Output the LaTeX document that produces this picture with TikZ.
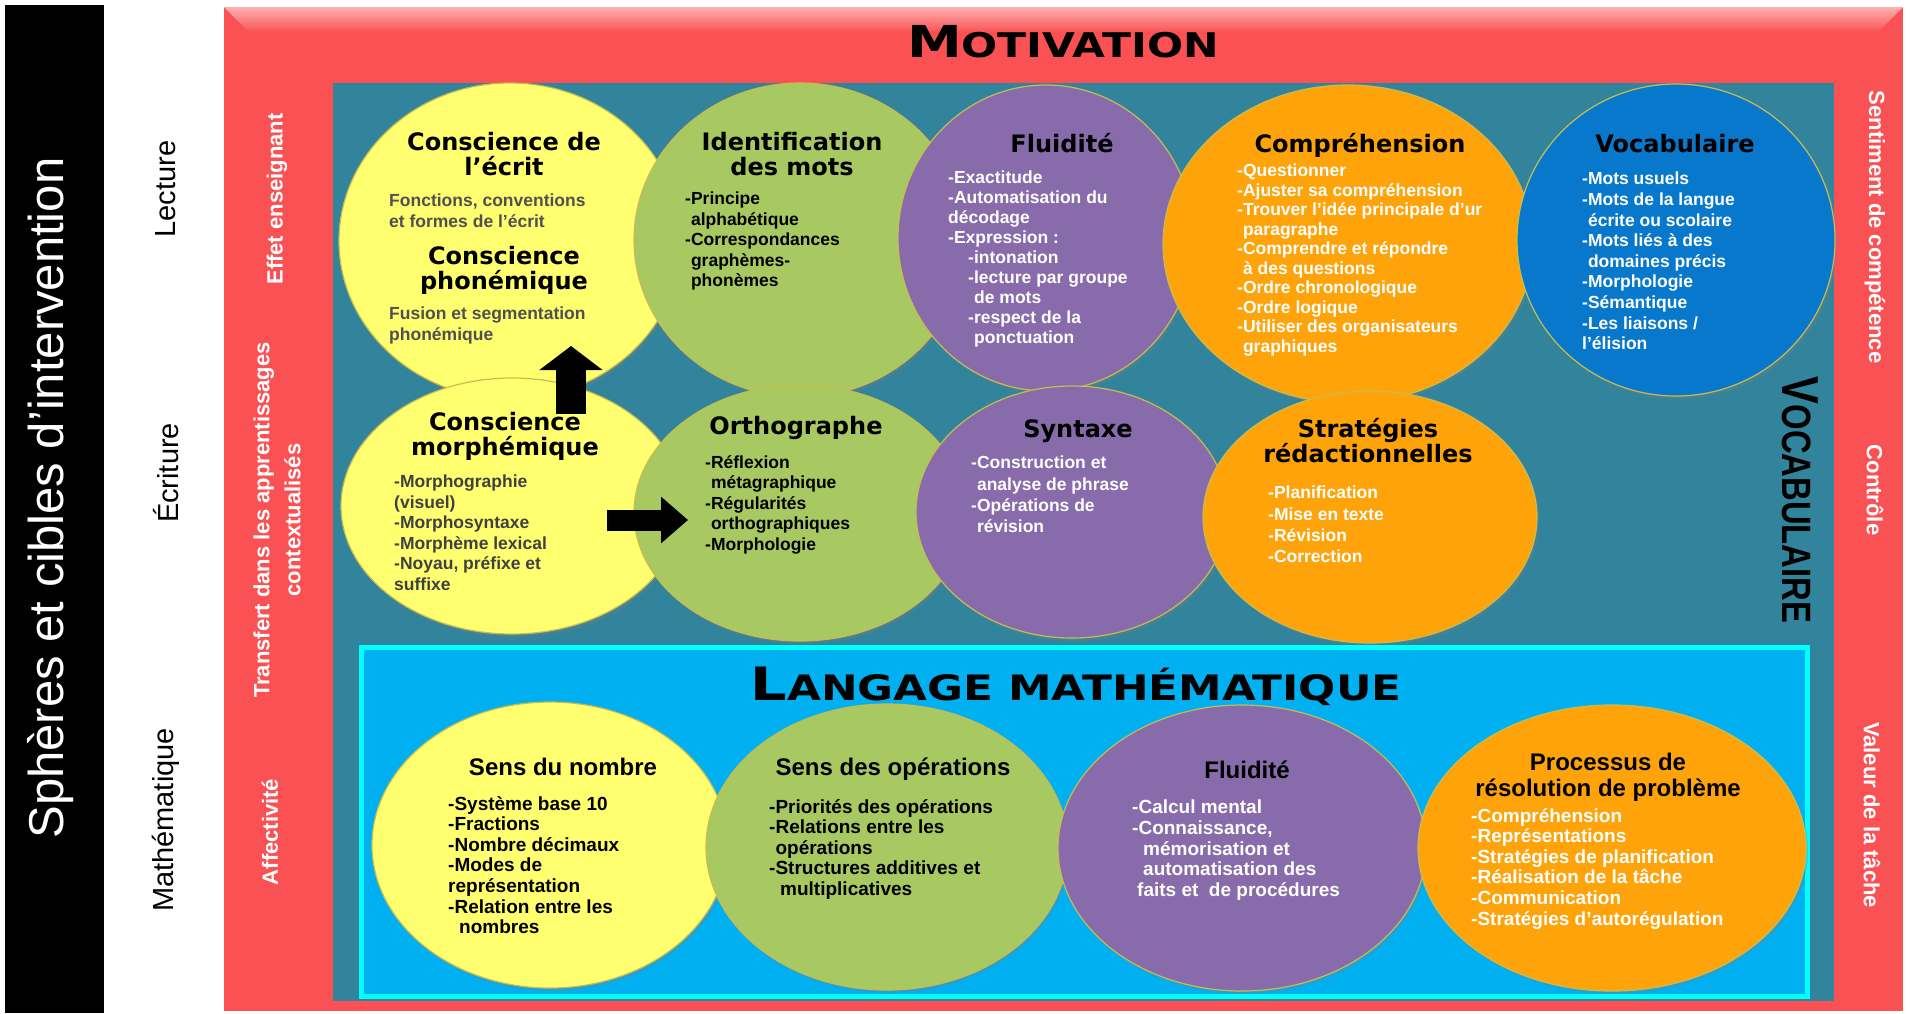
\documentclass[tikz,border=0pt]{standalone}
\usepackage{fontspec}
\setmainfont{Liberation Sans}
\newfontfamily\titrefont{DejaVu Sans}
\newfontfamily\largefont{DejaVu Sans}[FakeStretch=1.25]
\newfontfamily\etroitfont{Liberation Sans}[FakeStretch=0.8]
\usetikzlibrary{shapes.geometric,arrows.meta,shadows}
\definecolor{rouge}{RGB}{250,82,84}
\definecolor{sarcelle}{RGB}{49,132,155}
\definecolor{ciel}{RGB}{0,176,240}
\definecolor{cyanvif}{RGB}{0,255,255}
\definecolor{jaune}{RGB}{255,255,112}
\definecolor{vert}{RGB}{168,200,98}
\definecolor{violet}{RGB}{136,107,170}
\definecolor{orangevif}{RGB}{255,163,10}
\definecolor{bleu}{RGB}{8,120,204}
\definecolor{contour}{RGB}{200,188,80}
\definecolor{grisfonce}{RGB}{80,80,80}
\tikzstyle{bulle} = [ellipse, draw=contour, line width=1.2pt, inner sep=0pt,
    drop shadow={opacity=0.3, shadow xshift=2pt, shadow yshift=-3pt}]
\tikzstyle{titre} = [font=\titrefont\bfseries\fontsize{24}{25}\selectfont, align=center, inner sep=0pt]
\tikzstyle{liste} = [font=\bfseries\fontsize{17.5}{20.5}\selectfont, align=left, anchor=north west, inner sep=0pt]
\tikzstyle{titremath} = [font=\bfseries\fontsize{24}{26}\selectfont, align=center, inner sep=0pt]
\tikzstyle{listemath} = [font=\bfseries\fontsize{19}{20.6}\selectfont, align=left, anchor=north west, inner sep=0pt]
\tikzstyle{cote} = [font=\bfseries\fontsize{22}{31}\selectfont, text=white, align=center, inner sep=0pt]
\tikzstyle{sphere} = [font=\fontsize{29}{30}\selectfont, rotate=90, inner sep=0pt]

\begin{document}
\begin{tikzpicture}[x=1pt, y=-1pt]
                \useasboundingbox (0,0) rectangle (1910,1013);
                \fill[black] (5,5) rectangle (104,1013);
                \node[font=\fontsize{49}{50}\selectfont, text=white, rotate=90] (spheres) at (51,498) {Sphères et cibles d’intervention};
                \node[sphere] (lecture) at (166,189) {Lecture};
                \node[sphere] (ecriture) at (166,473) {Écriture};
                \node[sphere] (mathematique) at (166,820) {Mathématique};

                \fill[rouge] (224,7) rectangle (1903,1011);
                \shade[top color=rouge!45!white, bottom color=rouge] (224,7) -- (1903,7) -- (1878,32) -- (249,32) -- cycle;
                \node[font=\largefont\bfseries, anchor=base] (motivation) at (1063,57)
                    {{\fontsize{44}{44}\selectfont M}{\fontsize{34}{34}\selectfont OTIVATION}};
                \node[cote, rotate=90] (effet) at (277,199) {Effet enseignant};
                \node[cote, rotate=90] (transfert) at (277,520) {Transfert dans les apprentissages\\contextualisés};
                \node[cote, rotate=90] (affectivite) at (270,832) {Affectivité};
                \node[cote, rotate=-90] (sentiment) at (1875,227) {Sentiment de compétence};
                \node[cote, rotate=-90] (controle) at (1875,490) {Contrôle};
                \node[cote, rotate=-90] (valeur) at (1872,815) {Valeur de la tâche};

                \fill[sarcelle] (333,83) rectangle (1834,1001);
                \node[bulle, fill=jaune, minimum width=342pt, minimum height=316pt] (lect-ecrit) at (510,241) {};
                \node[bulle, fill=vert, minimum width=332pt, minimum height=314pt] (lect-ident) at (800,240) {};
                \node[bulle, fill=violet, minimum width=296pt, minimum height=306pt] (lect-flu) at (1046,238) {};
                \node[bulle, fill=orangevif, minimum width=370pt, minimum height=318pt] (lect-comp) at (1348,244) {};
                \node[bulle, fill=bleu, minimum width=318pt, minimum height=312pt] (lect-voc) at (1676,240) {};
                \node[bulle, fill=jaune, minimum width=342pt, minimum height=256pt] (ecr-morph) at (512,506) {};
                \node[bulle, fill=vert, minimum width=332pt, minimum height=256pt] (ecr-ortho) at (800,513) {};
                \node[bulle, fill=violet, minimum width=312pt, minimum height=252pt] (ecr-synt) at (1072,512) {};
                \node[bulle, fill=orangevif, minimum width=334pt, minimum height=252pt] (ecr-strat) at (1370,517) {};
                \node[font=\etroitfont\bfseries, rotate=-90] (vocabulaire) at (1800,500)
                    {{\fontsize{52}{52}\selectfont V}{\fontsize{41}{41}\selectfont OCABULAIRE}};

                \filldraw[fill=ciel, draw=cyanvif, line width=5pt] (361,647) rectangle (1807,996);
                \node[font=\largefont\bfseries, anchor=base] (langage) at (1076,700)
                    {{\fontsize{46}{46}\selectfont L}{\fontsize{35}{35}\selectfont ANGAGE MATHÉMATIQUE}};
                \node[bulle, fill=jaune, minimum width=356pt, minimum height=286pt] (math-nombre) at (550,845) {};
                \node[bulle, fill=vert, minimum width=362pt, minimum height=286pt] (math-oper) at (887,847) {};
                \node[bulle, fill=violet, minimum width=368pt, minimum height=286pt] (math-calc) at (1242,848) {};
                \node[bulle, fill=orangevif, minimum width=388pt, minimum height=286pt] (math-resol) at (1612,848) {};

                \node[titre] (t-ecrit) at (504,154) {Conscience de\\l’écrit};
                \node[liste, text=grisfonce] (l-ecrit) at (389,194) {Fonctions, conventions\\et formes de l’écrit};
                \node[titre] (t-phon) at (504,270) {Conscience\\phonémique};
                \node[liste, text=grisfonce] (l-phon) at (389,307) {Fusion et segmentation\\phonémique};
                \node[titre] (t-ident) at (792,154) {Identification\\des mots};
                \node[liste] (l-ident) at (685,192) {-Principe\\\phantom{-}alphabétique\\-Correspondances\\\phantom{-}graphèmes-\\\phantom{-}phonèmes};
                \node[titre] (t-flu) at (1062,143) {Fluidité};
                \node[liste, text=white, font=\bfseries\fontsize{17.5}{20}\selectfont] (l-flu) at (948,171)
                    {-Exactitude\\-Automatisation du\\décodage\\-Expression :\\\hspace*{20pt}-intonation\\\hspace*{20pt}-lecture par groupe\\\hspace*{26pt}de mots\\\hspace*{20pt}-respect de la\\\hspace*{26pt}ponctuation};
                \node[titre] (t-comp) at (1360,145) {Compréhension};
                \node[liste, text=white, font=\bfseries\fontsize{17.5}{19.5}\selectfont] (l-comp) at (1237,164)
                    {-Questionner\\-Ajuster sa compréhension\\-Trouver l’idée principale d’ur\\\phantom{-}paragraphe\\-Comprendre et répondre\\\phantom{-}à des questions\\-Ordre chronologique\\-Ordre logique\\-Utiliser des organisateurs\\\phantom{-}graphiques};
                \node[titre] (t-voc) at (1675,144) {Vocabulaire};
                \node[liste, text=white, font=\bfseries\fontsize{17.5}{20.6}\selectfont] (l-voc) at (1582,172)
                    {-Mots usuels\\-Mots de la langue\\\phantom{-}écrite ou scolaire\\-Mots liés à des\\\phantom{-}domaines précis\\-Morphologie\\-Sémantique\\-Les liaisons /\\l’élision};

                \node[titre] (t-morph) at (505,436) {Conscience\\morphémique};
                \node[liste, text=grisfonce!80!black] (l-morph) at (394,475) {-Morphographie\\(visuel)\\-Morphosyntaxe\\-Morphème lexical\\-Noyau, préfixe et\\suffixe};
                \node[titre] (t-ortho) at (796,428) {Orthographe};
                \node[liste] (l-ortho) at (705,455) {-Réflexion\\\phantom{-}métagraphique\\-Régularités\\\phantom{-}orthographiques\\-Morphologie};
                \node[titre] (t-synt) at (1078,431) {Syntaxe};
                \node[liste, text=white, font=\bfseries\fontsize{17.5}{21.3}\selectfont] (l-synt) at (971,456) {-Construction et\\\phantom{-}analyse de phrase\\-Opérations de\\\phantom{-}révision};
                \node[titre] (t-strat) at (1368,441) {Stratégies\\rédactionnelles};
                \node[liste, text=white, font=\bfseries\fontsize{17.5}{21.3}\selectfont] (l-strat) at (1268,486) {-Planification\\-Mise en texte\\-Révision\\-Correction};

                \node[titremath] (t-nombre) at (563,767) {Sens du nombre};
                \node[listemath] (l-nombre) at (448,796) {-Système base 10\\-Fractions\\-Nombre décimaux\\-Modes de\\représentation\\-Relation entre les\\\hspace*{11pt}nombres};
                \node[titremath] (t-oper) at (893,769) {Sens des opérations};
                \node[listemath] (l-oper) at (769,799) {-Priorités des opérations\\-Relations entre les\\\phantom{-}opérations\\-Structures additives et\\\hspace*{11pt}multiplicatives};
                \node[titremath] (t-calc) at (1247,770) {Fluidité};
                \node[listemath, text=white] (l-calc) at (1132,800) {-Calcul mental\\-Connaissance,\\\hspace*{11pt}mémorisation et\\\hspace*{11pt}automatisation des\\\hspace*{5pt}faits et\ \ de procédures};
                \node[titremath] (t-resol) at (1608,777) {Processus de\\résolution de problème};
                \node[listemath, text=white] (l-resol) at (1471,808) {-Compréhension\\-Représentations\\-Stratégies de planification\\-Réalisation de la tâche\\-Communication\\-Stratégies d’autorégulation};

                \coordinate (haut-a) at (571,414);
                \coordinate (haut-b) at (571,346);
                \coordinate (droite-a) at (607,520);
                \coordinate (droite-b) at (688,520);
                \draw[line width=30pt, -{Triangle[length=24pt, width=62pt]}] (haut-a) -- (haut-b);
                \draw[line width=21pt, -{Triangle[length=27pt, width=45pt]}] (droite-a) -- (droite-b);
            \end{tikzpicture}
\end{document}
